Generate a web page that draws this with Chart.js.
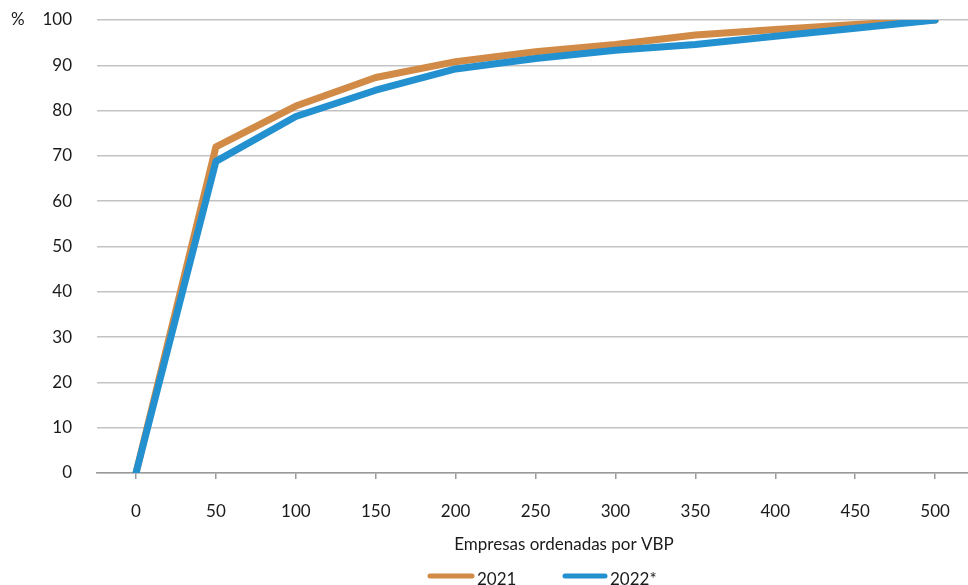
<!DOCTYPE html>
<html>
<head>
<meta charset="utf-8">
<script src="https://cdn.jsdelivr.net/npm/chart.js@4.4.1/dist/chart.umd.min.js"></script>
<style>
  html, body { margin: 0; padding: 0; background: #fff; overflow: hidden; }
  #wrap { width: 968px; height: 585px; position: relative; }
</style>
</head>
<body>
<div id="wrap"><canvas id="myChart"></canvas></div>
<script>
// empresas ordenadas por VBP (eje x)
const empresas = [0, 50, 100, 150, 200, 250, 300, 350, 400, 450, 500];
// % acumulado
const serie2021 = [0, 72.0, 81.0, 87.3, 90.8, 93.0, 94.6, 96.7, 97.9, 99.0, 100];
const serie2022 = [0, 68.8, 78.7, 84.5, 89.2, 91.5, 93.3, 94.6, 96.4, 98.2, 100];
const xTicks = [0, 50, 100, 150, 200, 250, 300, 350, 400, 450, 500];
const yTicks = [0, 10, 20, 30, 40, 50, 60, 70, 80, 90, 100];

const FONT = 'Lato, "Open Sans", sans-serif';
const naranja = '#d18b47';
const azul = '#2390cf';

function pares(vals) {
    return empresas.map((e, i) => ({ x: e, y: vals[i] }));
}

// textos extra: unidad, titulo del eje y leyenda
const extras = {
    id: 'extras',
    afterDraw(chart) {
        const ctx = chart.ctx;
        ctx.save();
        ctx.fillStyle = '#1a1a1a';
        ctx.font = '17px ' + FONT;
        ctx.textBaseline = 'middle';
        ctx.textAlign = 'left';
        ctx.fillText('%', 11, chart.scales.y.getPixelForValue(100));

        ctx.textAlign = 'center';
        ctx.textBaseline = 'alphabetic';
        ctx.fillText('Empresas ordenadas por VBP', 564, 550);

        const items = [
            { txt: '2021', color: naranja, x0: 430, x1: 472 },
            { txt: '2022*', color: azul, x0: 565, x1: 605 }
        ];
        ctx.textAlign = 'left';
        items.forEach(it => {
            ctx.strokeStyle = it.color;
            ctx.lineWidth = 5;
            ctx.lineCap = 'round';
            ctx.beginPath();
            ctx.moveTo(it.x0, 576);
            ctx.lineTo(it.x1, 576);
            ctx.stroke();
            ctx.fillText(it.txt, it.x1 + 5, 585);
        });
        ctx.restore();
    }
};

const ctx = document.getElementById('myChart').getContext('2d');
const myChart = new Chart(ctx, {
    type: 'line',
    data: {
        datasets: [{
            label: '2021',
            data: pares(serie2021),
            borderColor: naranja,
            backgroundColor: naranja,
            borderWidth: 7,
            pointRadius: 0,
            borderCapStyle: 'round',
            borderJoinStyle: 'round',
            tension: 0,
            order: 2
        }, {
            label: '2022*',
            data: pares(serie2022),
            borderColor: azul,
            backgroundColor: azul,
            borderWidth: 7,
            pointRadius: 0,
            borderCapStyle: 'round',
            borderJoinStyle: 'round',
            tension: 0,
            order: 1
        }]
    },
    options: {
        responsive: true,
        maintainAspectRatio: false,
        animation: false,
        layout: { padding: { top: 20, left: 0, right: 0, bottom: 0 } },
        plugins: {
            legend: { display: false },
            tooltip: { enabled: false }
        },
        scales: {
            x: {
                type: 'linear',
                min: -24.4,
                max: 520.6,
                afterBuildTicks: (s) => { s.ticks = xTicks.map(v => ({ value: v })); },
                afterFit: (s) => { s.height = 112; s.paddingLeft = 0; s.paddingRight = 0; },
                grid: { drawOnChartArea: false, drawTicks: true, tickLength: 6, color: '#9a9a9a', lineWidth: 1.5 },
                border: { display: true, color: '#9a9a9a', width: 1.5 },
                ticks: { color: '#1a1a1a', font: { family: FONT, size: 17 }, padding: 22, maxRotation: 0, autoSkip: false }
            },
            y: {
                min: 0,
                max: 100,
                afterBuildTicks: (s) => { s.ticks = yTicks.map(v => ({ value: v })); },
                afterFit: (s) => { s.width = 97; s.paddingTop = 0; s.paddingBottom = 0; },
                grid: { drawTicks: false, color: '#c3c3c3', lineWidth: 1.5 },
                border: { display: false },
                ticks: { color: '#1a1a1a', font: { family: FONT, size: 17 }, padding: 25 }
            }
        }
    },
    plugins: [extras]
});
</script>
</body>
</html>
